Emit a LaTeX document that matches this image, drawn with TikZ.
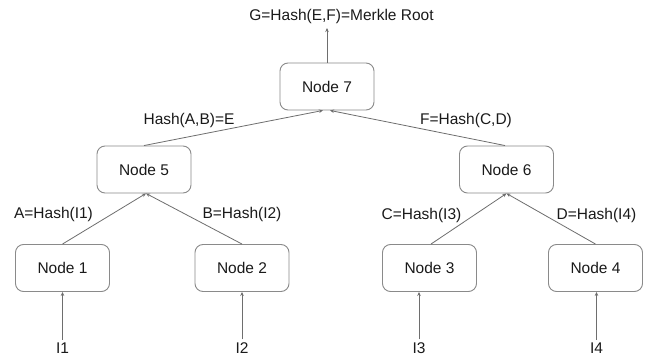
\documentclass[tikz,border=0pt]{standalone}
\usepackage{fontspec}
\setmainfont{Liberation Sans}
\usetikzlibrary{arrows.meta}
\definecolor{linegray}{HTML}{8A8A8A}
\definecolor{edgegray}{HTML}{6E6E6E}
\definecolor{txt}{HTML}{1A1A1A}
\begin{document}
\begin{tikzpicture}[x=1pt,y=-1pt,
  hashbox/.style={draw=linegray, line width=0.9pt, rounded corners=8pt, minimum width=94pt, minimum height=47pt, inner sep=0pt, font=\fontsize{15.5}{18}\selectfont, text=txt},
  lbl/.style={anchor=base, inner sep=3pt, font=\fontsize{15.5}{18}\selectfont, text=txt},
  conn/.style={draw=edgegray, line width=0.8pt, -{Stealth[length=4pt,width=3.5pt]}}]
\useasboundingbox[fill=white] (0,0) rectangle (646,358);

% boxes
\node[hashbox] (n7) at (327,86.5) {Node 7};
\node[hashbox] (n5) at (144,169.5) {Node 5};
\node[hashbox] (n6) at (506.5,169.5) {Node 6};
\node[hashbox] (n1) at (62.5,268) {Node 1};
\node[hashbox] (n2) at (242,268) {Node 2};
\node[hashbox] (n3) at (429.5,268) {Node 3};
\node[hashbox] (n4) at (595.5,268) {Node 4};

% texts
\node[lbl] (title) at (341.5,20.5) {G=Hash(E,F)=Merkle Root};
\coordinate (top) at (327,28);
\node[lbl] (le) at (189,124.3) {Hash(A,B)=E};
\node[lbl] (lf) at (466,124.5) {F=Hash(C,D)};
\node[lbl] (la) at (53.5,219) {A=Hash(I1)};
\node[lbl] (lb) at (242,219) {B=Hash(I2)};
\node[lbl] (lc) at (421.5,219.5) {C=Hash(I3)};
\node[lbl] (ld) at (596.5,219.5) {D=Hash(I4)};
\node[lbl] (i1) at (62.5,353.5) {I1};
\node[lbl] (i2) at (242,353.5) {I2};
\node[lbl] (i3) at (419,353.5) {I3};
\node[lbl] (i4) at (596.5,353.5) {I4};

% connectors
\draw[conn] (n7.north) -- (top);
\draw[conn] (n5.north) -- ([xshift=-4pt]n7.south);
\draw[conn] ([xshift=-1.5pt]n6.north) -- ([xshift=3pt]n7.south);
\draw[conn] (n1.north) -- ([xshift=2pt]n5.south);
\draw[conn] (n2.north) -- ([xshift=2pt]n5.south);
\draw[conn] ([xshift=1.5pt]n3.north) -- (n6.south);
\draw[conn] (n4.north) -- (n6.south);
\draw[conn] (i1.north) -- (i1.north |- n1.south);
\draw[conn] (i2.north) -- (i2.north |- n2.south);
\draw[conn] (i3.north) -- (i3.north |- n3.south);
\draw[conn] (i4.north) -- (i4.north |- n4.south);
\end{tikzpicture}
\end{document}
